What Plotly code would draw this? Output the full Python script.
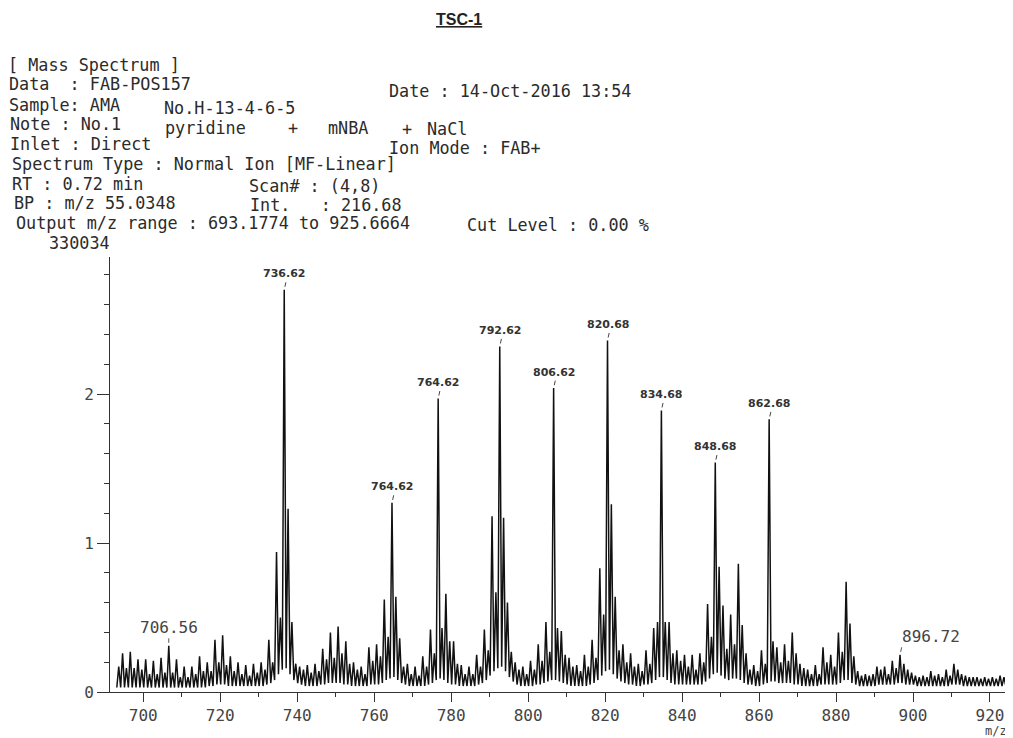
import plotly.graph_objects as go

# one profile peak per nominal mass, 693 ... 925
first_mass = 693
mass_defect = 0.62

# peak heights (axis units, full scale 330034 counts)
intensity = [
    0.17, 0.26, 0.16, 0.27, 0.16, 0.22, 0.15, 0.22, 0.12, 0.21,
    0.12, 0.23, 0.13, 0.31, 0.13, 0.22, 0.10, 0.17, 0.10, 0.17,
    0.12, 0.24, 0.14, 0.20, 0.14, 0.35, 0.20, 0.38, 0.18, 0.24,
    0.14, 0.20, 0.12, 0.18, 0.11, 0.19, 0.13, 0.20, 0.15, 0.35,
    0.20, 0.94, 0.50, 2.70, 1.23, 0.47, 0.19, 0.17, 0.15, 0.18,
    0.13, 0.19, 0.14, 0.29, 0.22, 0.40, 0.23, 0.44, 0.26, 0.34,
    0.19, 0.20, 0.15, 0.17, 0.12, 0.30, 0.21, 0.32, 0.24, 0.62,
    0.37, 1.27, 0.64, 0.36, 0.17, 0.19, 0.12, 0.17, 0.11, 0.24,
    0.17, 0.42, 0.26, 1.97, 0.43, 0.66, 0.34, 0.34, 0.19, 0.18,
    0.12, 0.17, 0.12, 0.25, 0.17, 0.42, 0.28, 1.18, 0.67, 2.32,
    1.17, 0.60, 0.27, 0.20, 0.15, 0.17, 0.12, 0.21, 0.15, 0.32,
    0.21, 0.47, 0.27, 2.04, 0.43, 0.41, 0.25, 0.23, 0.17, 0.18,
    0.14, 0.25, 0.17, 0.35, 0.23, 0.83, 0.52, 2.36, 1.26, 0.64,
    0.28, 0.32, 0.20, 0.26, 0.17, 0.19, 0.14, 0.28, 0.19, 0.43,
    0.47, 1.89, 0.47, 0.47, 0.26, 0.28, 0.21, 0.25, 0.17, 0.25,
    0.15, 0.26, 0.20, 0.59, 0.37, 1.54, 0.84, 0.58, 0.29, 0.52,
    0.32, 0.86, 0.45, 0.26, 0.15, 0.18, 0.14, 0.28, 0.19, 1.83,
    0.34, 0.30, 0.20, 0.32, 0.21, 0.40, 0.26, 0.19, 0.16, 0.15,
    0.12, 0.18, 0.12, 0.30, 0.20, 0.25, 0.17, 0.40, 0.27, 0.74,
    0.46, 0.24, 0.14, 0.11, 0.12, 0.11, 0.12, 0.17, 0.15, 0.17,
    0.12, 0.21, 0.16, 0.25, 0.19, 0.15, 0.13, 0.11, 0.10, 0.11,
    0.10, 0.14, 0.11, 0.12, 0.10, 0.15, 0.11, 0.19, 0.15, 0.12,
    0.11, 0.10, 0.10, 0.10, 0.09, 0.10, 0.09, 0.10, 0.09, 0.11,
    0.10, 0.11, 0.10,
]

# trough just before each peak
valley = [
    0.03, 0.03, 0.03, 0.03, 0.03, 0.03, 0.03, 0.03, 0.03, 0.03,
    0.03, 0.03, 0.03, 0.03, 0.03, 0.03, 0.03, 0.03, 0.03, 0.03,
    0.03, 0.03, 0.03, 0.03, 0.04, 0.04, 0.05, 0.05, 0.05, 0.04,
    0.04, 0.04, 0.04, 0.04, 0.04, 0.04, 0.04, 0.04, 0.04, 0.05,
    0.06, 0.08, 0.12, 0.15, 0.16, 0.12, 0.08, 0.06, 0.05, 0.04,
    0.04, 0.04, 0.04, 0.05, 0.05, 0.06, 0.06, 0.06, 0.06, 0.05,
    0.05, 0.04, 0.04, 0.04, 0.04, 0.04, 0.05, 0.05, 0.05, 0.06,
    0.08, 0.09, 0.10, 0.08, 0.06, 0.05, 0.04, 0.04, 0.04, 0.04,
    0.04, 0.05, 0.06, 0.08, 0.09, 0.08, 0.06, 0.05, 0.05, 0.04,
    0.04, 0.04, 0.04, 0.04, 0.05, 0.06, 0.08, 0.11, 0.14, 0.16,
    0.17, 0.14, 0.10, 0.07, 0.05, 0.04, 0.04, 0.04, 0.04, 0.05,
    0.05, 0.06, 0.07, 0.08, 0.08, 0.07, 0.06, 0.05, 0.04, 0.04,
    0.04, 0.04, 0.04, 0.05, 0.06, 0.08, 0.11, 0.14, 0.15, 0.12,
    0.09, 0.07, 0.06, 0.05, 0.05, 0.04, 0.04, 0.05, 0.05, 0.06,
    0.08, 0.10, 0.10, 0.08, 0.06, 0.05, 0.05, 0.05, 0.05, 0.05,
    0.05, 0.05, 0.05, 0.07, 0.09, 0.12, 0.13, 0.11, 0.09, 0.08,
    0.09, 0.09, 0.08, 0.06, 0.05, 0.05, 0.04, 0.04, 0.05, 0.06,
    0.07, 0.07, 0.06, 0.06, 0.06, 0.06, 0.05, 0.05, 0.04, 0.04,
    0.04, 0.04, 0.04, 0.05, 0.05, 0.05, 0.05, 0.05, 0.06, 0.08,
    0.08, 0.06, 0.05, 0.04, 0.04, 0.04, 0.04, 0.04, 0.05, 0.05,
    0.05, 0.05, 0.05, 0.06, 0.06, 0.05, 0.05, 0.05, 0.04, 0.04,
    0.04, 0.04, 0.04, 0.04, 0.04, 0.04, 0.04, 0.05, 0.05, 0.05,
    0.04, 0.04, 0.04, 0.04, 0.04, 0.04, 0.04, 0.04, 0.04, 0.04,
    0.04, 0.04, 0.04,
]

# labelled peaks (nominal mass -> printed label)
bold_label_masses = [736, 764, 776, 792, 806, 820, 834, 848, 862]
bold_label_texts = ["736.62", "764.62", "764.62", "792.62", "806.62",
                    "820.68", "834.68", "848.68", "862.68"]
plot_label_masses = [706, 896]
plot_label_texts = ["706.56", "896.72"]

x_tick_vals = [700, 720, 740, 760, 780, 800, 820, 840, 860, 880, 900, 920]
y_tick_vals = [0, 1, 2]

header_lines = [
    ("[ Mass Spectrum ]", 6, 65),
    ("Data  : FAB-POS157", 7, 84),
    ("Date : 14-Oct-2016 13:54", 387, 91),
    ("Sample: AMA", 7, 105),
    ("No.H-13-4-6-5", 162, 108),
    ("Note : No.1", 8, 124),
    ("pyridine", 163, 128),
    ("+", 286, 128),
    ("mNBA", 326, 128),
    ("+", 400, 129),
    ("NaCl", 425, 129),
    ("Inlet : Direct", 8, 144),
    ("Ion Mode : FAB+", 387, 148),
    ("Spectrum Type : Normal Ion [MF-Linear]", 10, 164),
    ("RT : 0.72 min", 10, 184),
    ("Scan# : (4,8)", 247, 186),
    ("BP : m/z 55.0348", 12, 203),
    ("Int.   : 216.68", 248, 205),
    ("Output m/z range : 693.1774 to 925.6664", 14, 223),
    ("Cut Level : 0.00 %", 465, 225),
    ("330034", 47, 243),
]

# plot box in page pixels; the html page adds an 8 px body margin
PLOT_L, PLOT_R, PLOT_T, PLOT_B = 110, 1010, 257, 692
PAGE_PAD = 8
W, H = 1013, 738
MONO = "DejaVu Sans Mono"
INK = "#2b2b2b"


def paper(px, py):
    return (px - PLOT_L) / (PLOT_R - PLOT_L), (PLOT_B - py) / (PLOT_B - PLOT_T)


# profile: trough -> peak for every nominal mass
xs, ys = [], []
for i, (h, v) in enumerate(zip(intensity, valley)):
    m = first_mass + i + mass_defect
    xs += [m - 0.5, m]
    ys += [v, h]
xs.append(xs[-1] + 0.5)
ys.append(valley[-1])

fig = go.Figure()
fig.add_trace(go.Scatter(x=xs, y=ys, mode="lines",
                         line=dict(color="#111", width=1.5),
                         hoverinfo="skip", showlegend=False))

annotations = []
for m, t in zip(bold_label_masses, bold_label_texts):
    x = m + mass_defect
    y = intensity[m - first_mass]
    annotations.append(dict(x=x, y=y, xref="x", yref="y", text="<b>%s</b>" % t,
                            showarrow=False, yshift=16, xanchor="center", yanchor="middle",
                            font=dict(family="DejaVu Sans", size=11, color="#333")))
    annotations.append(dict(x=x, y=y, xref="x", yref="y", text="", showarrow=True,
                            ax=2, ay=-9, arrowhead=0, arrowwidth=1, standoff=3,
                            arrowcolor="#444"))

for m, t, anchor in zip(plot_label_masses, plot_label_texts, ["center", "left"]):
    x = m + mass_defect
    y = intensity[m - first_mass]
    annotations.append(dict(x=x, y=y, xref="x", yref="y", text=t, showarrow=False,
                            xanchor=anchor, yanchor="middle", yshift=18,
                            font=dict(family=MONO, size=16, color="#444")))
    annotations.append(dict(x=x, y=y, xref="x", yref="y", text="", showarrow=True,
                            ax=2 if anchor == "left" else 0, ay=-9, arrowhead=0,
                            arrowwidth=1, standoff=3, arrowcolor="#555"))

for text, px, py in header_lines:
    ax_, ay_ = paper(px, py)
    annotations.append(dict(x=ax_, y=ay_, xref="paper", yref="paper", text=text,
                            showarrow=False, xanchor="left", yanchor="middle",
                            font=dict(family=MONO, size=16.8, color=INK)))

tx, ty = paper(459, 19)
annotations.append(dict(x=tx, y=ty, xref="paper", yref="paper",
                        text="<b><u>TSC-1</u></b>", showarrow=False,
                        xanchor="center", yanchor="middle",
                        font=dict(family="Liberation Sans", size=16, color="#222")))
mx, my = paper(996, 731)
annotations.append(dict(x=mx, y=my, xref="paper", yref="paper", text="m/z",
                        showarrow=False, xanchor="center", yanchor="middle",
                        font=dict(family=MONO, size=12, color="#444")))

fig.update_layout(
    width=W, height=H,
    margin=dict(l=PLOT_L - PAGE_PAD, r=W - (PLOT_R - PAGE_PAD),
                t=PLOT_T - PAGE_PAD, b=H - (PLOT_B - PAGE_PAD)),
    paper_bgcolor="white", plot_bgcolor="white",
    showlegend=False,
    annotations=annotations,
)
fig.update_xaxes(range=[691.35, 925.2], tickvals=x_tick_vals,
                 ticks="outside", ticklen=9, tickwidth=1, tickcolor="#333",
                 minor=dict(dtick=10, tick0=700, ticks="outside", ticklen=4, tickcolor="#333"),
                 showline=True, linecolor="#333", linewidth=1, showgrid=False, zeroline=False,
                 automargin=False,
                 tickfont=dict(family=MONO, size=16, color="#444"))
fig.update_yaxes(range=[0, 2.92], tickvals=y_tick_vals,
                 ticks="outside", ticklen=12, tickwidth=1, tickcolor="#333",
                 minor=dict(dtick=0.2, tick0=0, ticks="outside", ticklen=5, tickcolor="#333"),
                 showline=True, linecolor="#333", linewidth=1, showgrid=False, zeroline=False,
                 automargin=False,
                 tickfont=dict(family=MONO, size=16, color="#444"))

fig.write_html("out.html")
